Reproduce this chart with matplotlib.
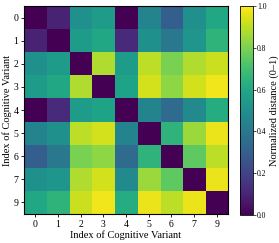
import numpy as np
import matplotlib
matplotlib.use("Agg")
import matplotlib.pyplot as plt

plt.rcParams['font.family'] = ['Liberation Serif', 'DejaVu Serif']

labels = ["0", "1", "2", "3", "4", "5", "6", "7", "9"]
row0 = [0.00, 0.10, 0.50, 0.55, 0.00, 0.45, 0.30, 0.50, 0.60]
row1 = [0.10, 0.00, 0.55, 0.60, 0.12, 0.50, 0.40, 0.52, 0.65]
row2 = [0.50, 0.55, 0.00, 0.88, 0.55, 0.90, 0.80, 0.88, 0.92]
row3 = [0.55, 0.60, 0.88, 0.00, 0.58, 0.93, 0.83, 0.93, 0.98]
row4 = [0.00, 0.12, 0.55, 0.58, 0.00, 0.45, 0.35, 0.48, 0.62]
row5 = [0.45, 0.50, 0.90, 0.93, 0.45, 0.00, 0.65, 0.85, 0.97]
row6 = [0.30, 0.40, 0.80, 0.83, 0.35, 0.65, 0.00, 0.75, 0.90]
row7 = [0.50, 0.52, 0.88, 0.93, 0.48, 0.85, 0.75, 0.00, 0.97]
row9 = [0.60, 0.65, 0.92, 0.98, 0.62, 0.97, 0.90, 0.97, 0.00]
matrix = np.array([row0, row1, row2, row3, row4, row5, row6, row7, row9])

fig = plt.figure(figsize=(2.79, 2.43), dpi=100)
ax = fig.add_axes([24/279, 1 - 214/243, 204/279, 208/243])
cax = fig.add_axes([240/279, 1 - 215/243, 13/279, 209/243])

im = ax.imshow(matrix, cmap='viridis', vmin=0, vmax=1, aspect='auto')
ax.set_xticks(range(len(labels)))
ax.set_xticklabels(labels, fontsize=7)
ax.set_yticks(range(len(labels)))
ax.set_yticklabels(labels, fontsize=7)
ax.tick_params(length=2.5, width=0.6, pad=1.5)
ax.set_xlabel("Index of Cognitive Variant", fontsize=7.5, labelpad=1)
ax.set_ylabel("Index of Cognitive Variant", fontsize=7.5, labelpad=1)
for s in ax.spines.values():
    s.set_linewidth(0.8)

cb = fig.colorbar(im, cax=cax)
cb.set_ticks([0.0, 0.2, 0.4, 0.6, 0.8, 1.0])
cb.ax.tick_params(labelsize=5.5, length=2, width=0.5, pad=1)
cb.set_label("Normalized distance (0–1)", fontsize=7.5, labelpad=2)
cb.outline.set_linewidth(0.6)

fig.savefig("out.png", dpi=100)
